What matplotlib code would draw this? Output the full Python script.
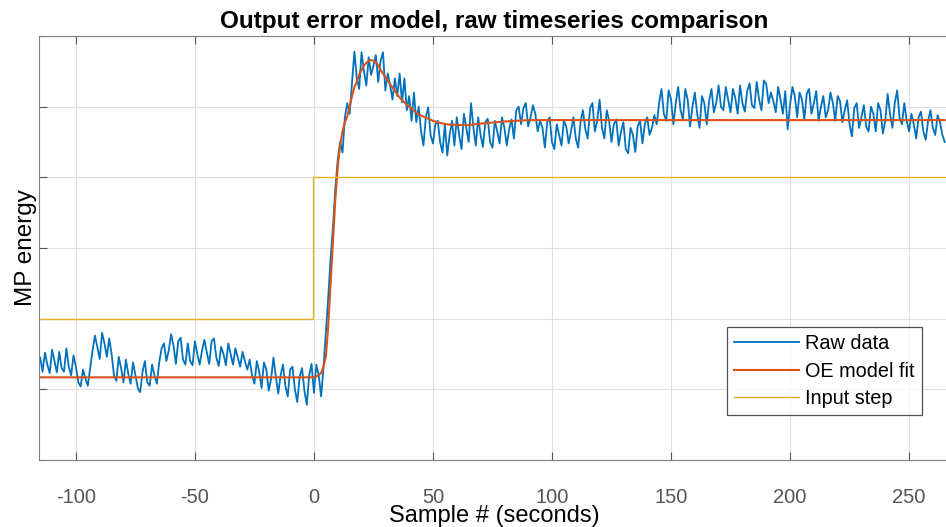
import numpy as np
import matplotlib.pyplot as plt

plt.rcParams['font.family'] = ['Liberation Sans', 'DejaVu Sans']
plt.rcParams['axes.unicode_minus'] = False

# raw data, one sample per second starting at t = -115
raw_start = -115
raw_data = [
    14.5, 12.5, 15.2, 13.5, 12.3, 15.6, 14.0, 12.4, 15.3, 13.0,
    12.5, 15.8, 13.2, 12.0, 14.8, 13.2, 11.0, 10.4, 12.8, 11.5,
    10.5, 13.0, 15.5, 17.6, 16.0, 14.3, 18.0, 16.5, 14.6, 17.2,
    15.0, 12.0, 11.2, 14.6, 13.0, 11.0, 14.2, 12.2, 10.8, 13.8,
    12.0, 10.2, 9.6, 12.5, 14.0, 11.0, 10.5, 13.5, 12.0, 10.8,
    13.8, 15.8, 16.5, 14.0, 15.5, 17.8, 16.2, 13.6, 16.8, 17.3,
    14.2, 13.5, 16.5, 14.0, 13.4, 16.8, 15.0, 13.5, 15.5, 17.0,
    15.2, 13.6, 16.8, 17.2, 14.5, 13.3, 16.0, 15.0, 13.4, 16.5,
    15.0, 13.5, 15.8, 14.5, 13.2, 15.3, 14.0, 12.8, 14.2, 12.0,
    10.8, 14.0, 12.5, 10.2, 13.8, 12.8, 9.8, 11.5, 14.5, 11.8,
    9.4, 12.0, 13.5, 10.5, 9.0, 12.8, 13.2, 10.0, 8.2, 11.8,
    13.0, 9.8, 7.8, 12.0, 13.6, 9.5, 13.5, 12.0, 9.0, 13.0,
    18.0, 23.0, 28.5, 33.0, 38.5, 42.5, 45.0, 43.5, 48.5, 50.5,
    49.0, 53.5, 57.8, 54.0, 52.5, 57.7, 55.0, 53.0, 57.0, 54.5,
    55.8, 57.3, 53.5, 56.5, 57.7, 52.3, 54.7, 53.0, 51.0, 54.0,
    51.5, 54.7, 50.6, 54.0, 49.5, 51.5, 48.0, 52.0, 47.8, 50.0,
    46.5, 44.5, 48.5, 49.9, 46.0, 44.8, 47.5, 48.0, 45.0, 43.5,
    47.5, 43.1, 46.0, 48.0, 44.5, 48.5, 46.0, 44.0, 49.0, 47.0,
    45.0, 50.5, 47.0, 44.5, 48.5, 46.0, 44.3, 47.8, 48.3, 45.0,
    44.2, 48.0, 46.5, 44.8, 48.5, 47.0, 44.5, 46.8, 48.2, 45.5,
    49.5, 50.0, 47.5, 49.8, 50.5, 47.2, 48.5, 50.2, 49.0, 46.5,
    48.0, 47.0, 44.2, 47.8, 48.5, 45.0, 44.0, 47.5, 46.0, 44.5,
    48.0, 47.2, 44.8, 46.5, 48.5, 45.5, 44.2, 47.8, 49.5, 46.8,
    45.5, 49.8, 50.5, 46.5, 48.0, 51.0, 47.0, 45.5, 49.5, 48.0,
    45.0, 47.5, 48.2, 44.5, 46.5, 47.8, 44.0, 43.4, 47.0, 46.0,
    43.6, 47.2, 48.0, 44.8, 47.5, 48.5, 46.0, 47.0, 48.8, 47.5,
    50.5, 52.5, 49.0, 48.0, 52.3, 51.0, 47.5, 50.5, 52.8, 49.5,
    48.2, 52.5, 51.0, 47.2, 50.0, 52.0, 49.0, 47.0, 51.5, 50.5,
    47.5, 50.8, 52.5, 49.2, 50.5, 53.0, 50.0, 49.5, 52.8, 51.0,
    49.2, 52.5, 51.2, 49.0, 53.0, 50.5, 49.3, 52.2, 53.3, 50.2,
    49.8, 53.5, 51.0, 49.5, 53.7, 53.2, 50.5, 52.0, 50.8, 49.2,
    52.8, 51.0, 49.0, 52.2, 46.8, 50.2, 52.8, 51.5, 48.5, 52.0,
    51.0, 48.2, 51.8, 52.5, 49.0, 50.5, 52.2, 48.0, 50.0, 51.5,
    48.5, 49.5, 52.0, 50.5, 48.0, 51.5, 50.8, 47.8, 49.5, 50.9,
    47.5, 45.8, 49.8, 50.5, 47.0, 48.5, 50.2, 47.2, 46.5, 50.0,
    49.0, 46.5, 50.5, 49.5, 46.2, 48.0, 51.8, 49.0, 47.0, 50.5,
    52.3, 48.5, 47.5, 50.5, 48.0, 46.5, 49.0, 47.5, 45.5, 48.5,
    49.3, 46.5, 45.3, 48.0, 49.5, 47.0, 46.0, 48.8, 47.8, 46.0,
    45.0,
]
raw_t = raw_start + np.arange(len(raw_data))

# OE model fit
oe_t = [-115, 0, 1, 2, 3, 4, 5, 6, 7, 8, 9, 10, 11, 12, 13, 14, 15, 16, 17,
        18, 19, 20, 21, 22, 23, 24, 25, 26, 27, 28, 30, 32, 34, 36, 38, 40,
        42, 44, 46, 48, 50, 53, 56, 60, 65, 70, 80, 90, 100, 265]
oe_fit = [11.7, 11.7, 11.8, 12.0, 12.3, 13.2, 14.6, 19.0, 25.0, 31.0, 37.0,
          41.5, 44.5, 46.5, 47.8, 48.6, 50.0, 51.5, 52.8, 53.5, 54.5, 55.2,
          55.8, 56.2, 56.5, 56.6, 56.5, 56.3, 55.9, 55.2, 54.2, 53.2, 52.2,
          51.3, 50.6, 50.0, 49.4, 48.9, 48.6, 48.3, 48.0, 47.7, 47.5, 47.4,
          47.4, 47.6, 47.9, 48.1, 48.1, 48.1]

# input step
step_t = [-115, -0.5, -0.5, 265]
step_v = [20, 20, 40, 40]

xticks = [-100, -50, 0, 50, 100, 150, 200, 250]
yticks = [0, 10, 20, 30, 40, 50, 60]

fig = plt.figure(figsize=(9.46, 5.27), dpi=100)
ax = fig.add_axes([39/946, 1 - 460/527, 911/946, 424/527])

ax.plot(raw_t, raw_data, color='#0072BD', lw=1.3, label='Raw data')
ax.plot(oe_t, oe_fit, color='#D95319', lw=1.5, label='OE model fit')
ax.plot(step_t, step_v, color='#EDB120', lw=1.0, label='Input step')

ax.set_xlim(-115.5, 267.2)
ax.set_ylim(0, 60)
ax.set_xticks(xticks)
ax.set_yticks(yticks)
ax.set_yticklabels([])
ax.grid(True, color='#e0e0e0', lw=0.8)
ax.set_axisbelow(True)
ax.tick_params(direction='in', length=6, color='#555555', labelcolor='#555555',
               labelsize=14.5, top=True)
ax.tick_params(axis='x', pad=20)
for s in ax.spines.values():
    s.set_color('#808080')

ax.set_title('Output error model, raw timeseries comparison', fontsize=17.5,
             fontweight='bold', pad=6)
ax.set_xlabel('Sample # (seconds)', fontsize=17, labelpad=-1)
ax.set_ylabel('MP energy', fontsize=17.5, labelpad=-2)

leg = ax.legend(loc='lower left', bbox_to_anchor=(0.755, 0.106), borderaxespad=0,
                fontsize=14.3, frameon=True, fancybox=False, handlelength=3.3,
                handletextpad=0.3, labelspacing=0.42, borderpad=0.35)
leg.get_frame().set_edgecolor('#262626')
leg.get_frame().set_linewidth(0.9)

fig.savefig('out.png', dpi=100)
